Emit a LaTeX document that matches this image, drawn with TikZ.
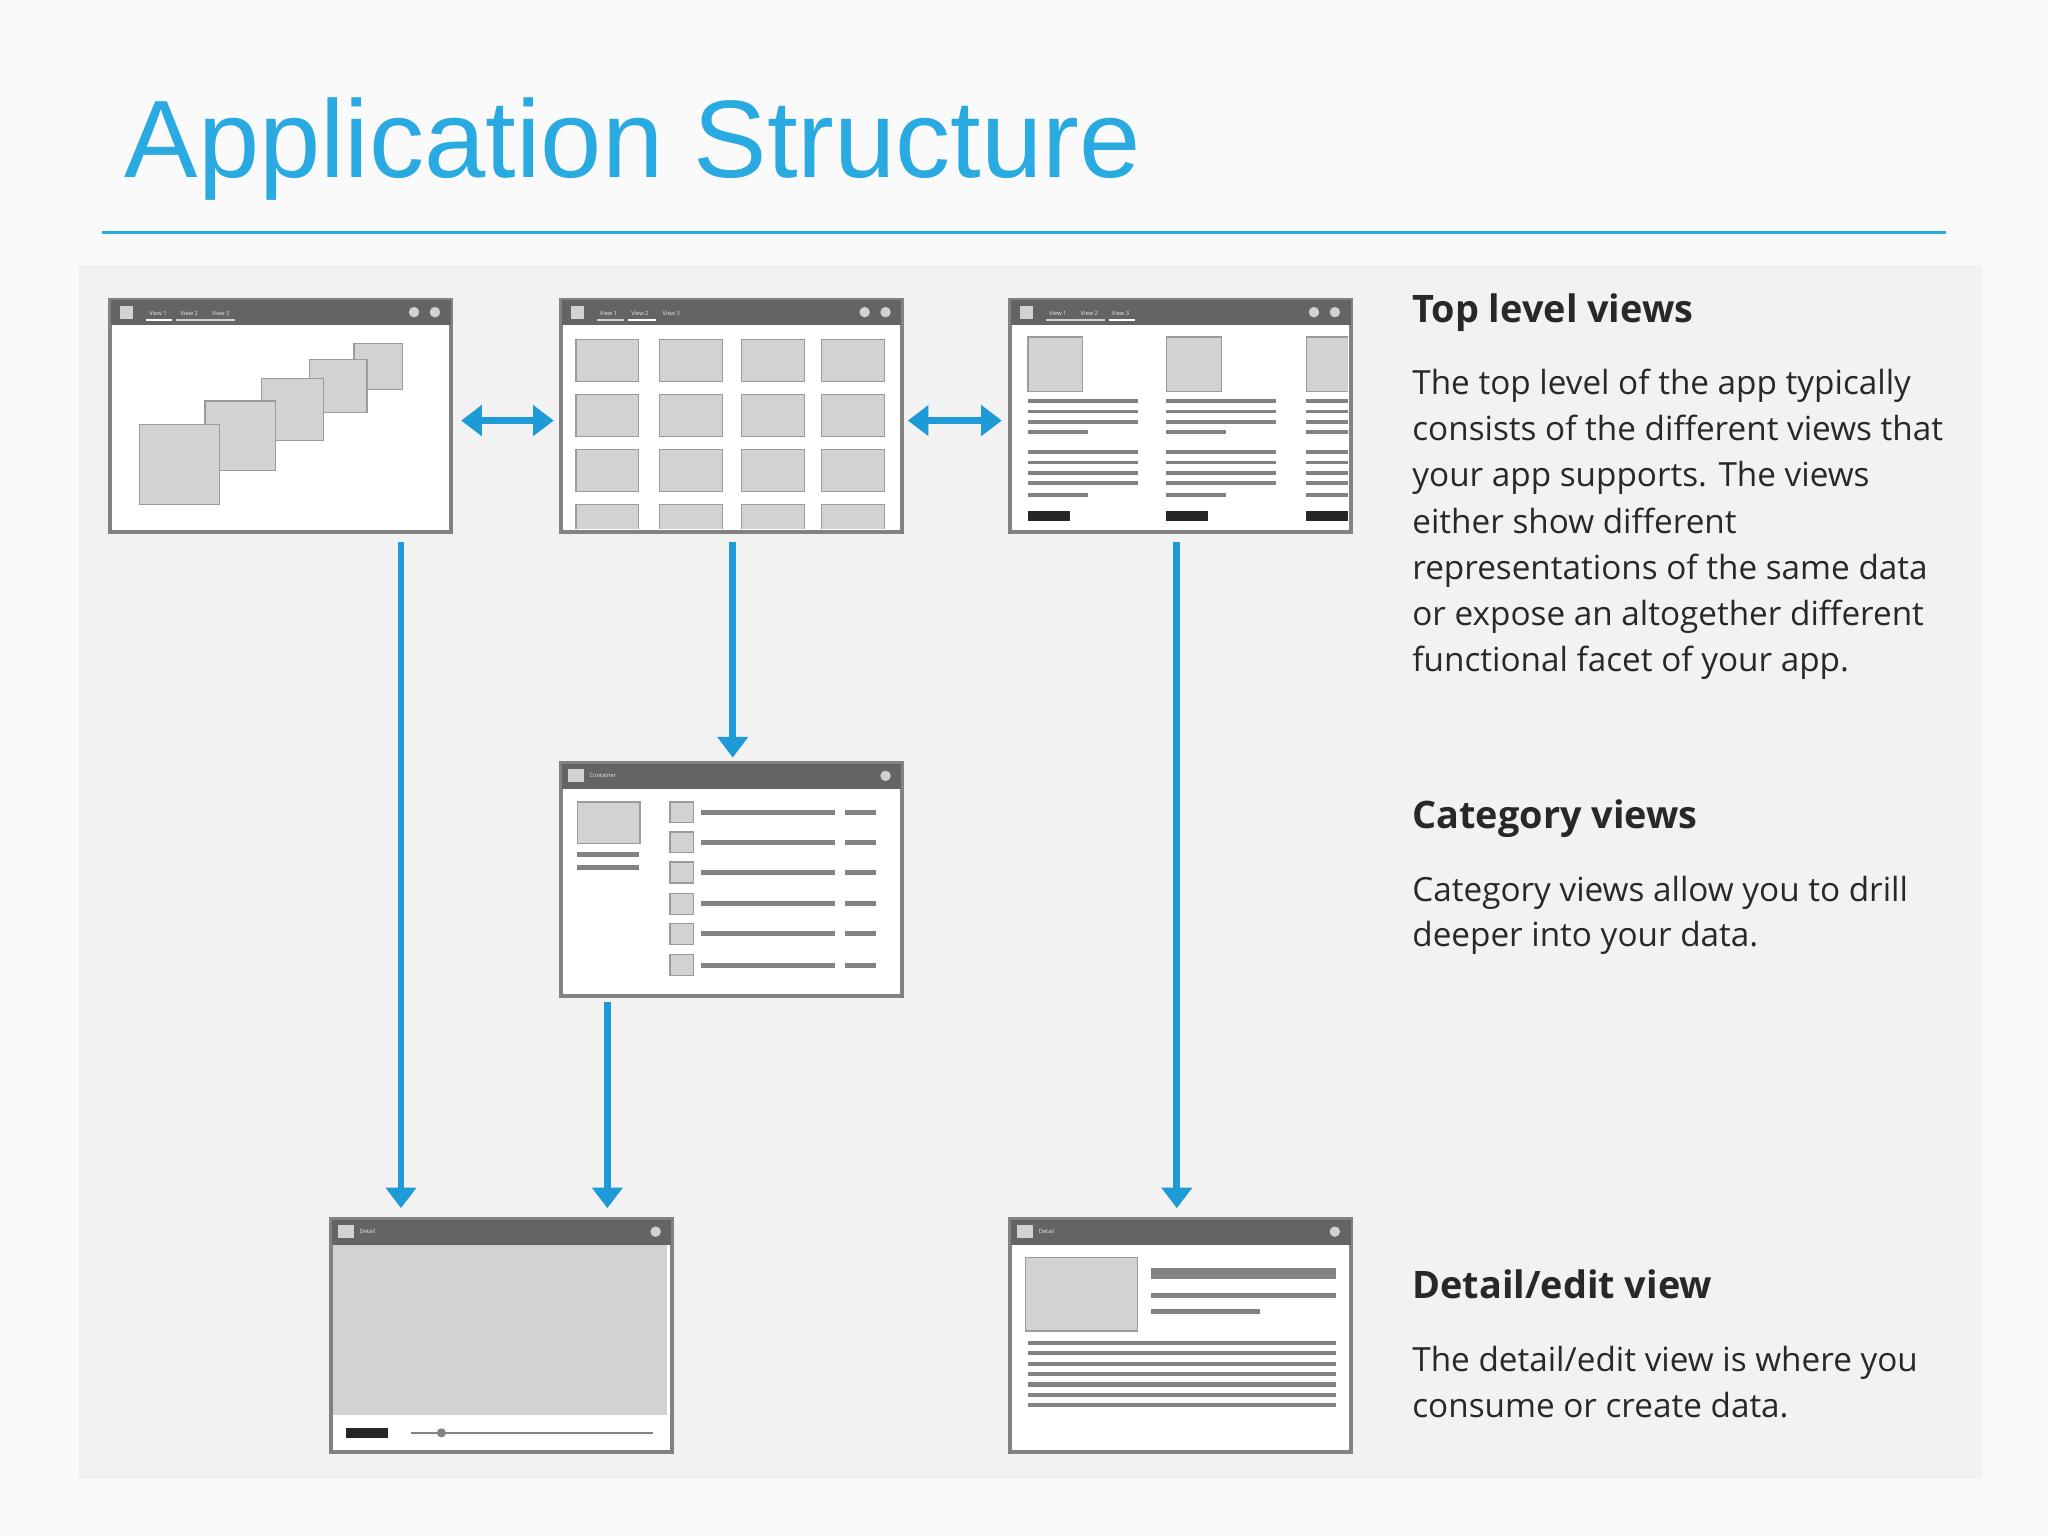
\documentclass[tikz,border=0pt]{standalone}
\usepackage{fontspec}
\setmainfont{Open Sans}
\newfontfamily\titlefont{Liberation Sans}
\usetikzlibrary{arrows.meta}
\definecolor{blu}{RGB}{30,155,215}
\definecolor{ttl}{RGB}{41,170,225}
\definecolor{bg}{RGB}{242,242,242}
\definecolor{barc}{RGB}{100,100,100}
\definecolor{boxc}{RGB}{210,210,210}
\definecolor{linec}{RGB}{130,130,130}
\definecolor{txt}{RGB}{40,40,40}
\tikzset{
 screen/.style={draw=linec,line width=1.2pt,fill=white,minimum width=5.2cm,minimum height=3.54cm,anchor=north west,inner sep=0pt},
 bar/.style={fill=barc},
 gbox/.style={fill=boxc,draw=linec!80,line width=0.5pt},
 gl/.style={draw=linec,line width=2.2pt},
 conn/.style={draw=blu,line width=3pt,-{Triangle[width=13pt,length=9pt]}},
 dconn/.style={draw=blu,line width=3pt,{Triangle[width=13pt,length=9pt]}-{Triangle[width=13pt,length=9pt]}},
 body/.style={anchor=base west,text=txt,font=\fontsize{14.5}{17}\selectfont,inner sep=0pt},
 head/.style={anchor=base west,text=txt,font=\fontsize{16.5}{20}\selectfont\bfseries,inner sep=0pt},
 tab/.style={text=white!85!barc,font=\fontsize{2.5}{3}\selectfont,inner sep=0pt,anchor=west},
}
\newcommand{\titlebar}[1]{%
 \fill[bar] (#1.north west) rectangle ([yshift=-0.4cm]#1.north east);
 \draw[linec,line width=1.2pt] (#1.north west) rectangle (#1.south east);}
\begin{document}
\begin{tikzpicture}[x=0.02cm,y=-0.02cm]
\fill[white!98!black] (0,0) rectangle (1568,1176);
\fill[bg] (60,203) rectangle (1518,1132);
\node[anchor=base west,text=ttl,inner sep=0pt,font=\titlefont\fontsize{48}{56}\selectfont] (title) at (95,136) {Application Structure};
\draw[ttl,line width=1.2pt] (78,178) -- (1490,178);

% screens
\node[screen] (A) at (84,229) {};
\node[screen] (B) at (429,229) {};
\node[screen] (C) at (773,229) {};
\node[screen] (D) at (429,584) {};
\node[screen] (E) at (253,933) {};
\node[screen] (F) at (773,933) {};
\foreach \n in {A,B,C,D,E,F} {\titlebar{\n}}
% title bar details
\foreach \x in {84,429,773} {
 \fill[boxc] (\x+8,234) rectangle (\x+18,244);
 \fill[boxc] (\x+233,239) circle (4); \fill[boxc] (\x+249,239) circle (4);
 \node[tab] at (\x+30,240) {View 1};
 \node[tab] at (\x+54,240) {View 2};
 \node[tab] at (\x+78,240) {View 3};
}
\draw[white,line width=1pt] (112,245) -- (132,245); \draw[white!70!barc,line width=0.6pt] (135,245) -- (180,245);
\draw[white!70!barc,line width=0.6pt] (457,245) -- (478,245); \draw[white,line width=1pt] (481,245) -- (502,245);
\draw[white!70!barc,line width=0.6pt] (801,245) -- (846,245); \draw[white,line width=1pt] (849,245) -- (869,245);
\foreach \x/\y/\t in {429/594/Container,253/943/Detail,773/943/Detail} {
 \fill[boxc] (\x+6,\y-5) rectangle (\x+18,\y+5);
 \fill[boxc] (\x+249,\y) circle (4);
 \node[tab] at (\x+22,\y) {\t};
}

% A interior
\foreach \a/\b/\c/\d in {271/263/308/298,237/275/281/316,200/290/248/337,157/307/211/360,107/325/168/386}
 \filldraw[gbox] (\a,\b) rectangle (\c,\d);

% B interior
\begin{scope}
\clip (430,250) rectangle (688,405);
\foreach \x in {441,505,568,629}
 \foreach \y in {260,302,344,386}
  \filldraw[gbox] (\x,\y) rectangle (\x+48,\y+32);
\end{scope}

% C interior
\begin{scope}
\clip (774,250) rectangle (1032,405);
\foreach \x in {787,893,1000} {
 \filldraw[gbox] (\x,258) rectangle (\x+42,300);
 \foreach \y/\w in {307/84,315/84,323/84,331/46,346/84,354/84,362/84,370/84,379/46}
  \draw[linec,line width=1.6pt] (\x,\y) -- (\x+\w,\y);
 \fill[black!85] (\x,391) rectangle (\x+32,399);
}
\end{scope}

% D interior
\filldraw[gbox] (442,614) rectangle (490,646);
\draw[gl] (442,654) -- (489,654); \draw[gl] (442,664) -- (489,664);
\foreach \y in {622,645,668,692,715,739} {
 \filldraw[gbox] (513,\y-8) rectangle (531,\y+8);
 \draw[gl] (537,\y) -- (639,\y);
 \draw[gl] (647,\y) -- (671,\y);
}

% E interior
\fill[boxc] (255,953) rectangle (511,1083);
\fill[black!85] (265,1093) rectangle (297,1101);
\draw[linec,line width=0.8pt] (315,1097) -- (500,1097);
\fill[linec] (338,1097) circle (3.5);

% F interior
\filldraw[gbox] (785,963) rectangle (871,1019);
\draw[linec,line width=4.5pt] (881,975) -- (1023,975);
\draw[gl] (881,992) -- (1023,992);
\draw[gl] (881,1004) -- (965,1004);
\foreach \y in {1028,1036,1044,1052,1060,1068,1076}
 \draw[linec,line width=1.8pt] (787,\y) -- (1023,\y);

% connectors
\draw[dconn,shorten <=7pt*0.57,shorten >=5pt*0.57] (A.east |- 0,322) -- (B.west |- 0,322);
\draw[dconn] ([xshift=0.08cm]B.east |- 0,322) -- ([xshift=1.52cm]B.east |- 0,322);
\draw[conn] ([yshift=-0.14cm]A.south -| 307,0) -- ([yshift=0.16cm]E.north -| 307,0);
\draw[conn] ([yshift=-0.14cm]B.south -| 561,0) -- ([yshift=0.08cm]D.north -| 561,0);
\draw[conn] ([yshift=-0.08cm]D.south -| 465,0) -- ([yshift=0.16cm]E.north -| 465,0);
\draw[conn] ([yshift=-0.14cm]C.south -| 901,0) -- ([yshift=0.16cm]F.north -| 901,0);

% texts
\node[head] (h1) at (1081,247) {Top level views};
\foreach \t [count=\i from 0] in {The top level of the app typically,consists of the different views that,your app supports. The views,either show different,representations of the same data,or expose an altogether different,functional facet of your app.}
 \node[body] at (1081,302+35.4*\i) {\t};
\node[head] (h2) at (1081,634) {Category views};
\node[body] at (1081,690) {Category views allow you to drill};
\node[body] at (1081,725) {deeper into your data.};
\node[head] (h3) at (1081,994) {Detail/edit view};
\node[body] at (1081,1050) {The detail/edit view is where you};
\node[body] at (1081,1085) {consume or create data.};
\end{tikzpicture}
\end{document}
